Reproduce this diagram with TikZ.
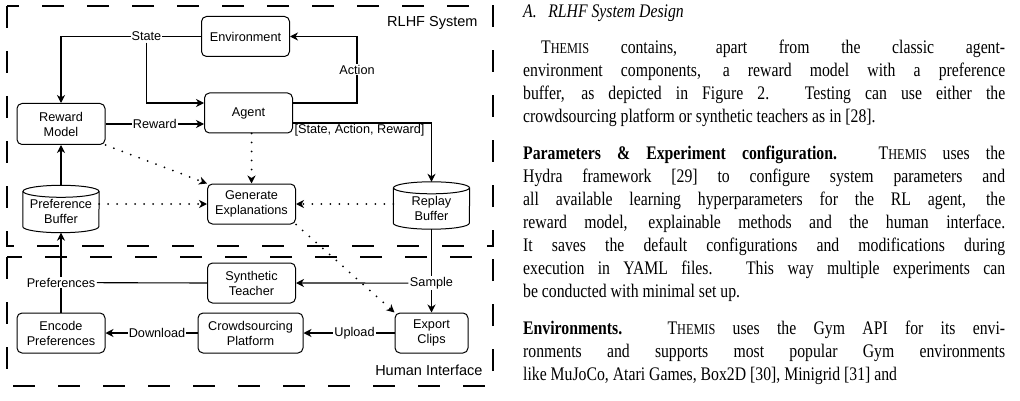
\documentclass[tikz,border=0pt]{standalone}
\usepackage{fontspec}
\setmainfont{Liberation Serif}[FakeStretch=0.82]
\newfontfamily\diafont{Liberation Sans}
\usetikzlibrary{positioning,arrows.meta}
\newcommand\themis{T{\fontsize{15}{0}\selectfont HEMIS}}

\begin{document}
\begin{tikzpicture}[x=1pt,y=-1pt,>={Stealth[length=8pt,width=8pt,inset=2.5pt]},
  every node/.style={font=\diafont\fontsize{12.7}{15}\selectfont},
  box/.style={draw,line width=1pt,rounded corners=5pt,minimum width=88pt,minimum height=40pt,align=center,inner sep=1pt},
  buf/.style={minimum width=76pt,minimum height=47pt,inner sep=0pt},
  lbl/.style={fill=white,inner sep=1pt},
  flow/.style={line width=1.1pt},
  expl/.style={line width=2pt,dash pattern=on 0pt off 9pt,line cap=round},
  frame/.style={line width=2.6pt,dash pattern=on 22pt off 23pt},
  txt/.style={font=\fontsize{19.2}{23}\selectfont,text width=482pt,align=justify,inner sep=0pt,anchor=base west,
    execute at begin node={\tolerance=10000\hyphenpenalty=10000}}]
  \fill[white] (0,0) rectangle (1020,401);
  \useasboundingbox (0,0) rectangle (1020,401);
  % frames
  \draw[frame] (7,6) rectangle (493,246);
  \draw[frame] (7,257) rectangle (493,386);
  \node[anchor=east,font=\diafont\fontsize{14.5}{17}\selectfont] (sys) at (481,23) {RLHF System};
  \node[anchor=east,font=\diafont\fontsize{14.5}{17}\selectfont] (hum) at (486,370) {Human Interface};
  % boxes
  \node[box] (env) at (245.5,36.5) {Environment};
  \node[box] (agent) at (248.5,113) {Agent};
  \node[box,minimum height=41pt] (rm) at (61,124) {Reward\\Model};
  \node[box] (gen) at (251.5,204) {Generate\\Explanations};
  \node[buf] (pbuf) at (61,209) {};
  \node[buf] (rbuf) at (431.5,205.5) {};
  \node[box] (synth) at (251.5,283) {Synthetic\\Teacher};
  \node[box] (enc) at (61,333) {Encode\\Preferences};
  \node[box,minimum width=105pt] (crowd) at (250.5,333) {Crowdsourcing\\Platform};
  \node[box,minimum width=73pt] (exp) at (431.5,333) {Export\\Clips};
  % buffers as cylinders
  \foreach \b in {pbuf,rbuf}{
    \draw[line width=1pt] ([yshift=-6pt]\b.north west) -- ([yshift=6pt]\b.south west)
      arc[start angle=180,end angle=360,x radius=38pt,y radius=6pt] -- ([yshift=-6pt]\b.north east);
    \draw[line width=1pt] ([yshift=-6pt]\b.north) ellipse[x radius=38pt,y radius=6pt];
  }
  \node[align=center] (pbuftxt) at ([yshift=-2.5pt]pbuf.center) {Preference\\Buffer};
  \node[align=center] (rbuftxt) at ([yshift=-2.5pt]rbuf.center) {Replay\\Buffer};
  % agent loop
  \coordinate (act) at (357,36.5);
  \draw[flow,->] (env.west) -- node[lbl,pos=0.39] (st) {State} (env.west -| rm.north) -- (rm.north);
  \draw[flow,->] (st.south) |- ([yshift=10pt]agent.west);
  \draw[flow,->] (rm.east) -- node[lbl] {Reward} (rm.east -| agent.west);
  \draw[flow,->] ([yshift=10pt]agent.east) -| node[lbl,pos=0.75] {Action} (act) -- (env.east);
  \draw[flow,->] ([yshift=-10pt]agent.east) -| node[pos=0,anchor=north west,inner sep=1pt] {[State, Action, Reward]} (rbuf.north);
  \draw[flow,->] (pbuf.north) -- (rm.south);
  % explanations
  \draw[expl,->] (rm.south east) -- (gen.north west);
  \draw[expl,->] (gen.north |- agent.south) -- (gen.north);
  \draw[expl,->] (pbuf.east |- gen.west) -- (gen.west);
  \draw[expl,->] (rbuf.west |- gen.east) -- (gen.east);
  \draw[expl,->] (gen.south east) -- (exp.north west);
  % human side
  \draw[flow,->] (enc.north) -- node[lbl,pos=0.375] (pref) {Preferences} (pbuf.south);
  \draw[flow] (synth.west) -- (pref);
  \draw[flow,->] (rbuf.south) -- node[lbl,pos=0.647] (smp) {Sample} (exp.north);
  \draw[flow,->] (smp) -- (synth.east);
  \draw[flow,->] (exp) -- node[lbl,pos=0.44] {Upload} (crowd);
  \draw[flow,->] (crowd) -- node[lbl,pos=0.44] {Download} (enc);
  % paper text
  \node[txt] (title) at (523,18) {\textit{A.\hspace{0.6em}RLHF System Design}};
  \node[txt] (par1) at (523,54) {\hspace*{18pt}\themis{} contains, apart from the classic agent-\linebreak
    environment components, a reward model with a preference\linebreak
    buffer, as depicted in Figure 2. Testing can use either the\linebreak
    crowdsourcing platform or synthetic teachers as in [28].};
  \node[txt] (par2) at (523,160) {\textbf{Parameters \& Experiment configuration.} \themis{} uses the\linebreak
    Hydra framework [29] to configure system parameters and\linebreak
    all available learning hyperparameters for the RL agent, the\linebreak
    reward model, explainable methods and the human interface.\linebreak
    It saves the default configurations and modifications during\linebreak
    execution in YAML files. This way multiple experiments can\linebreak
    be conducted with minimal set up.};
  \node[txt] (par3) at (523,334) {\parfillskip=0pt\textbf{Environments.} \themis{} uses the Gym API for its envi-\linebreak
    ronments and supports most popular Gym environments\linebreak
    like MuJoCo, Atari Games, Box2D [30], Minigrid [31] and};
\end{tikzpicture}
\end{document}
